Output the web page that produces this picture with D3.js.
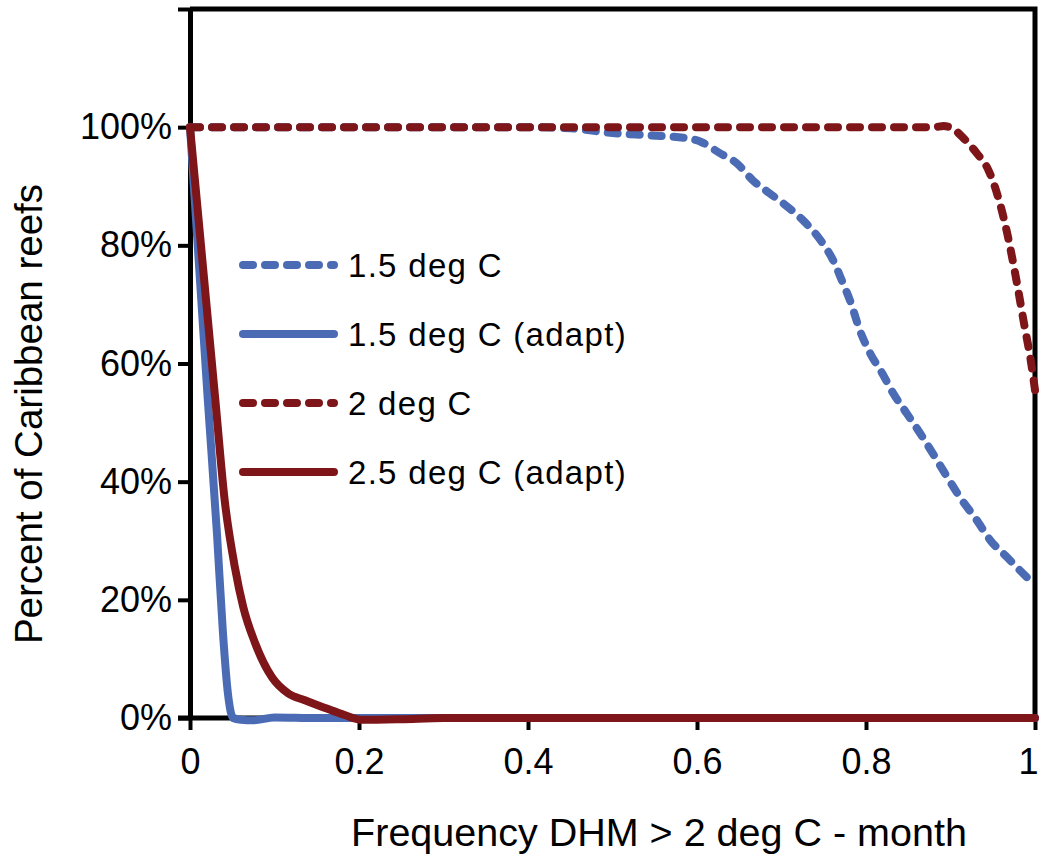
<!DOCTYPE html>
<html>
<head>
<meta charset="utf-8">
<script src="https://cdn.jsdelivr.net/npm/d3@7"></script>
<style>
  body { margin: 0; background: #fff; }
  svg { display: block; font-family: "Liberation Sans", Arial, sans-serif; }
</style>
</head>
<body>
<div id="chart"></div>
<script>
// series data: x = frequency of DHM > 2 deg C, y = share of reefs
const xBlueDash = [0, 0.1, 0.2, 0.3, 0.4, 0.45, 0.5, 0.545, 0.585, 0.605, 0.627, 0.647, 0.666, 0.686, 0.702, 0.725, 0.746, 0.761, 0.773, 0.781, 0.793, 0.805, 0.819, 0.832, 0.848, 0.864, 0.879, 0.896, 0.911, 0.931, 0.947, 0.967, 0.982, 1.0];
const yBlueDash = [1, 1, 1, 1, 1, 0.998, 0.99, 0.986, 0.982, 0.975, 0.956, 0.939, 0.91, 0.888, 0.871, 0.843, 0.809, 0.775, 0.735, 0.707, 0.655, 0.617, 0.584, 0.55, 0.516, 0.482, 0.448, 0.408, 0.374, 0.335, 0.301, 0.272, 0.25, 0.225];

const xBlueAdapt = [0, 0.021, 0.032, 0.039, 0.045, 0.051, 0.06, 0.075, 0.1, 0.15, 0.2, 0.3, 0.5, 0.7, 1.0];
const yBlueAdapt = [1.0, 0.54, 0.31, 0.144, 0.04, 0.0, -0.003, -0.004, 0.001, 0.0, 0, 0, 0, 0, 0];

const xRedDash = [0, 0.2, 0.4, 0.6, 0.8, 0.86, 0.88, 0.892, 0.902, 0.915, 0.931, 0.945, 0.955, 0.967, 0.978, 0.987, 0.995, 1.0];
const yRedDash = [1, 1, 1, 1, 1, 1, 1.0, 1.002, 0.998, 0.982, 0.956, 0.927, 0.888, 0.821, 0.741, 0.668, 0.605, 0.555];

const xRedAdapt = [0, 0.030, 0.041, 0.053, 0.063, 0.077, 0.097, 0.116, 0.136, 0.160, 0.183, 0.204, 0.25, 0.3, 0.5, 0.7, 1.0];
const yRedAdapt = [1.0, 0.538, 0.369, 0.256, 0.188, 0.127, 0.069, 0.042, 0.030, 0.017, 0.005, -0.003, -0.002, 0, 0, 0, 0];

const seriesNames = ["1.5 deg C", "1.5 deg C (adapt)", "2 deg C", "2.5 deg C (adapt)"];
const xTicks = [0, 0.2, 0.4, 0.6, 0.8, 1];
const yTicks = [0, 0.2, 0.4, 0.6, 0.8, 1.0, 1.2];
const yTickLabels = ["0%", "20%", "40%", "60%", "80%", "100%", ""];

const width = 1043, height = 861;
const blue = "#4b6cb4", red = "#7e1619";

const series = [
  { name: seriesNames[0], xs: xBlueDash, ys: yBlueDash, color: blue, dash: "10,12" },
  { name: seriesNames[1], xs: xBlueAdapt, ys: yBlueAdapt, color: blue, dash: null },
  { name: seriesNames[2], xs: xRedDash, ys: yRedDash, color: red, dash: "10,12" },
  { name: seriesNames[3], xs: xRedAdapt, ys: yRedAdapt, color: red, dash: null }
];

const svg = d3.select("#chart").append("svg")
  .attr("width", width)
  .attr("height", height);

const x = d3.scaleLinear().domain([0, 1]).range([190, 1035]);
const y = d3.scaleLinear().domain([0, 1.2]).range([718, 9]);

// plot border (top + right)
svg.append("path")
  .attr("d", `M${x(0)},${y(1.2)} H${x(1)} V${y(0)}`)
  .attr("fill", "none")
  .attr("stroke", "#000")
  .attr("stroke-width", 5);

// y axis
const yAxis = svg.append("g")
  .attr("transform", `translate(${x(0)},0)`)
  .call(d3.axisLeft(y).tickValues(yTicks).tickSize(12).tickSizeOuter(0)
    .tickFormat((d, i) => yTickLabels[i]));
yAxis.select(".domain").attr("stroke-width", 5);
yAxis.selectAll(".tick line").attr("stroke-width", 4);
yAxis.selectAll(".tick text")
  .attr("x", -18)
  .attr("font-size", 36)
  .attr("font-family", "Liberation Sans, Arial, sans-serif")
  .attr("fill", "#000");

// x axis
const xAxis = svg.append("g")
  .attr("transform", `translate(0,${y(0)})`)
  .call(d3.axisBottom(x).tickValues(xTicks).tickSize(12).tickSizeOuter(0)
    .tickFormat(d => d3.format("")(d)));
xAxis.select(".domain").attr("stroke-width", 5)
  .attr("d", `M${x(0) - 12},0H${x(1)}`);
xAxis.selectAll(".tick line").attr("stroke-width", 4);
xAxis.selectAll(".tick text")
  .attr("y", 30)
  .attr("dy", "0.71em")
  .attr("dx", d => d === 1 ? -7 : 0)
  .attr("font-size", 36)
  .attr("font-family", "Liberation Sans, Arial, sans-serif")
  .attr("fill", "#000");

// series lines
const line = d3.line()
  .x(d => x(d[0]))
  .y(d => y(d[1]))
  .curve(d3.curveMonotoneX);

series.forEach(s => {
  svg.append("path")
    .datum(d3.zip(s.xs, s.ys))
    .attr("d", line)
    .attr("fill", "none")
    .attr("stroke", s.color)
    .attr("stroke-width", 8)
    .attr("stroke-linecap", "round")
    .attr("stroke-linejoin", "round")
    .attr("stroke-dasharray", s.dash);
});

// legend
const legend = svg.append("g");
const rowY = d3.scalePoint().domain(seriesNames).range([265, 472]);
series.forEach(s => {
  const g = legend.append("g").attr("transform", `translate(0,${rowY(s.name)})`);
  g.append("line")
    .attr("x1", 243).attr("x2", 334)
    .attr("stroke", s.color)
    .attr("stroke-width", 8)
    .attr("stroke-linecap", "round")
    .attr("stroke-dasharray", s.dash);
  g.append("text")
    .attr("x", 348)
    .attr("y", 12)
    .attr("font-size", 33)
    .attr("letter-spacing", 1.3)
    .attr("fill", "#000")
    .text(s.name);
});

// axis titles
svg.append("text")
  .attr("x", 659)
  .attr("y", 846)
  .attr("text-anchor", "middle")
  .attr("font-size", 39.5)
  .text("Frequency DHM > 2 deg C - month");

svg.append("text")
  .attr("transform", `translate(42,414) rotate(-90)`)
  .attr("text-anchor", "middle")
  .attr("font-size", 38.5)
  .text("Percent of Caribbean reefs");
</script>
</body>
</html>
